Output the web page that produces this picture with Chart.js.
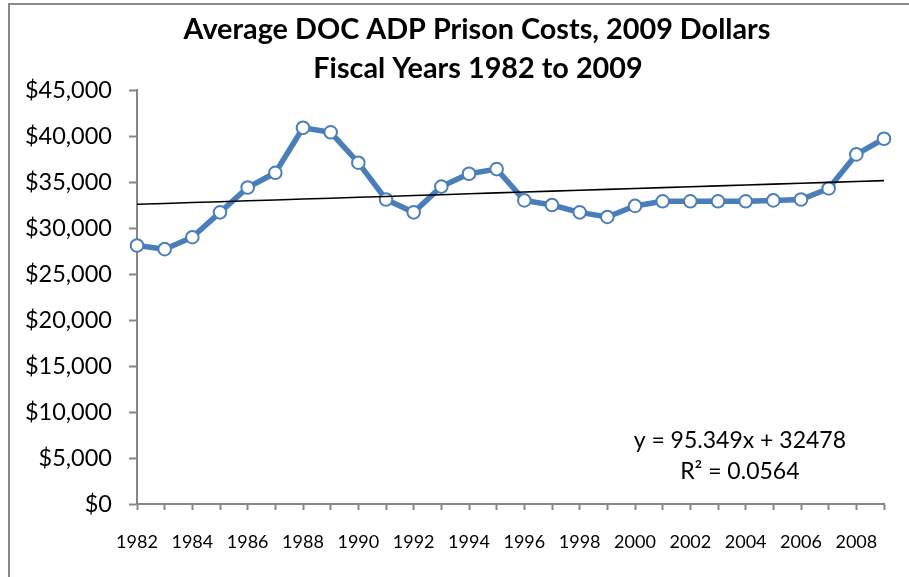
<!DOCTYPE html>
<html>
<head>
<meta charset="utf-8">
<script src="https://cdn.jsdelivr.net/npm/chart.js@4/dist/chart.umd.min.js"></script>
<style>
  html, body { margin: 0; padding: 0; background: #ffffff; }
  #wrap { width: 909px; height: 577px; }
</style>
</head>
<body>
<div id="wrap"><canvas id="c" width="909" height="577"></canvas></div>
<script>
// Fiscal years and average cost per ADP inmate, in 2009 dollars
const years = ['1982','1983','1984','1985','1986','1987','1988','1989','1990','1991',
               '1992','1993','1994','1995','1996','1997','1998','1999','2000','2001',
               '2002','2003','2004','2005','2006','2007','2008','2009'];
const costs = [28100, 27700, 29000, 31700, 34400, 36000, 40900, 40400, 37100, 33100,
               31700, 34500, 35900, 36400, 33000, 32500, 31700, 31200, 32400, 32900,
               32900, 32900, 32900, 33000, 33100, 34300, 38000, 39700];

// Linear trendline as published: y = 95.349x + 32478 (x = 1 for 1982)
const trendSlope = 95.349;
const trendIntercept = 32478;
const trendR2 = '0.0564';
const trendValues = years.map((_, i) => trendIntercept + trendSlope * (i + 1));

const titleLines = ['Average DOC ADP Prison Costs, 2009 Dollars', 'Fiscal Years 1982 to 2009'];

const FONT = 'Lato, Calibri, Carlito, sans-serif';
const AXIS_GRAY = '#868686';

// Outer frame, title and trendline equation
const decorations = {
  id: 'decorations',
  beforeDraw(chart) {
    const ctx = chart.ctx;
    ctx.save();
    ctx.strokeStyle = '#8a8a8a';
    ctx.lineWidth = 2;
    ctx.strokeRect(9, 4, 1200, 1200);
    ctx.restore();
  },
  afterDraw(chart) {
    const ctx = chart.ctx;
    ctx.save();
    ctx.fillStyle = '#000000';
    ctx.textAlign = 'center';
    ctx.textBaseline = 'middle';
    ctx.font = 'bold 28.8px ' + FONT;
    ctx.fillText(titleLines[0], 477, 30);
    ctx.fillText(titleLines[1], 478, 69);

    ctx.font = '23px ' + FONT;
    const a = chart.chartArea;
    const cx = a.left + (a.right - a.left) * 0.807;
    ctx.fillText('y = ' + trendSlope + 'x + ' + trendIntercept, cx, 441);
    ctx.fillText('R\u00B2 = ' + trendR2, cx, 472);
    ctx.restore();
  }
};

new Chart(document.getElementById('c'), {
  type: 'line',
  data: {
    labels: years,
    datasets: [
      {
        label: 'Linear trend',
        data: trendValues,
        borderColor: '#000000',
        borderWidth: 1.6,
        pointRadius: 0,
        tension: 0,
        order: 0,
        clip: false
      },
      {
        label: 'Average cost',
        data: costs,
        borderColor: '#4A7EBB',
        borderWidth: 5.5,
        pointRadius: 6.3,
        pointBorderWidth: 2,
        pointBackgroundColor: '#ffffff',
        pointBorderColor: '#4A7EBB',
        tension: 0,
        order: 1,
        clip: false
      }
    ]
  },
  options: {
    responsive: false,
    animation: false,
    devicePixelRatio: 1,
    layout: { padding: { top: 90, right: 25, bottom: 0, left: 0 } },
    plugins: {
      legend: { display: false },
      title: { display: false },
      tooltip: { enabled: false }
    },
    scales: {
      x: {
        type: 'category',
        offset: false,
        grid: {
          display: true,
          drawOnChartArea: false,
          drawTicks: true,
          tickLength: 6,
          tickWidth: 2,
          color: AXIS_GRAY
        },
        border: { display: true, color: AXIS_GRAY, width: 2 },
        ticks: {
          autoSkip: false,
          maxRotation: 0,
          padding: 21,
          color: '#000000',
          font: { family: FONT, size: 18 },
          callback: function (value, index) {
            return index % 2 === 0 ? this.getLabelForValue(value) : '';
          }
        },
        afterFit(scale) { scale.height = 73; }
      },
      y: {
        min: 0,
        max: 45000,
        grid: {
          display: true,
          drawOnChartArea: false,
          drawTicks: true,
          tickLength: 8,
          tickWidth: 2,
          color: AXIS_GRAY
        },
        border: { display: true, color: AXIS_GRAY, width: 2 },
        ticks: {
          stepSize: 5000,
          padding: 17,
          color: '#000000',
          font: { family: FONT, size: 23.5 },
          callback: (v) => '$' + v.toLocaleString('en-US')
        },
        afterFit(scale) { scale.width = 137; }
      }
    }
  },
  plugins: [decorations]
});
</script>
</body>
</html>
